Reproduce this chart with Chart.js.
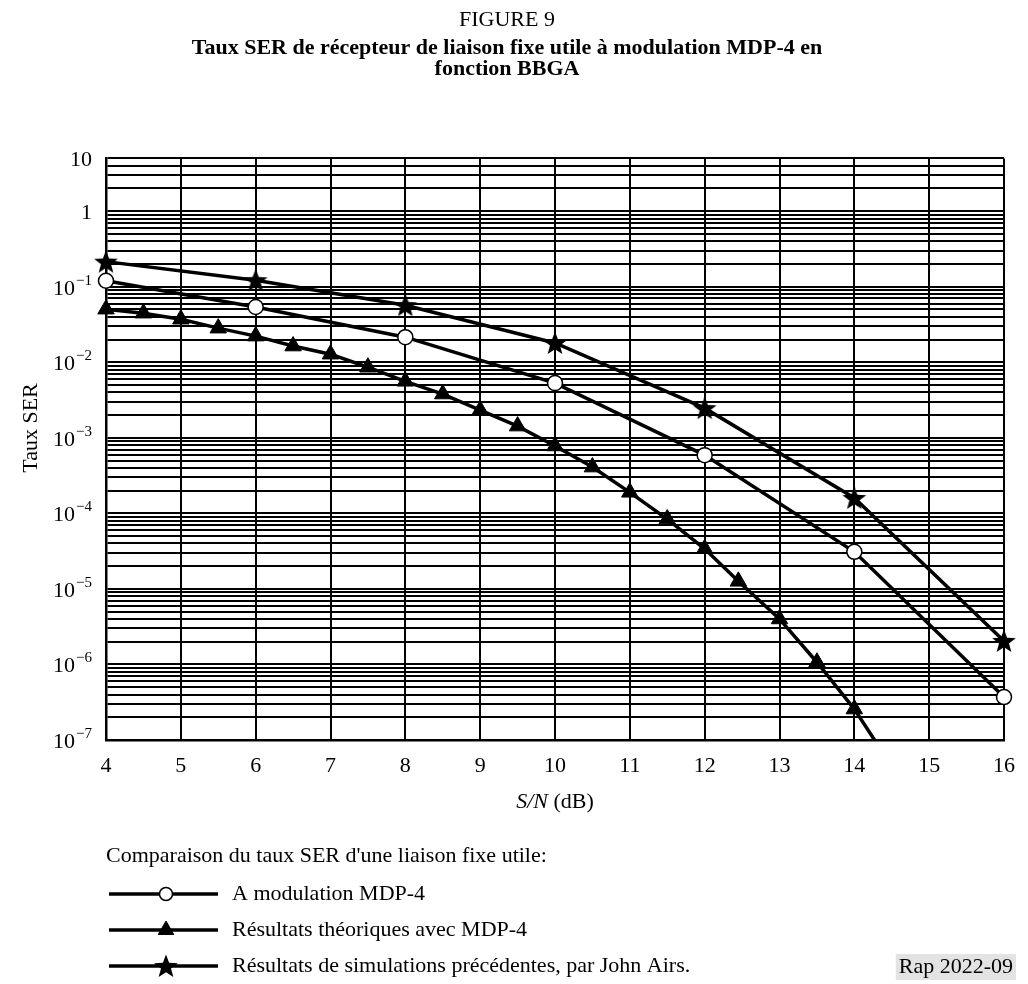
<!DOCTYPE html>
<html>
<head>
<meta charset="utf-8">
<script src="https://cdn.jsdelivr.net/npm/chart.js@4.4.0/dist/chart.umd.min.js"></script>
<style>
  body { margin: 0; background: #fff; }
  #wrap { width: 1028px; height: 984px; }
</style>
</head>
<body>
<div id="wrap"><canvas id="chart" width="1028" height="984"></canvas></div>
<script>
// values (S/N in dB, SER)
const snrCircle = [4, 6, 8, 10, 12, 14, 16];
const serCircle = [0.12, 0.054, 0.0215, 0.0053, 5.9e-4, 3.1e-5, 3.7e-7];

const snrTriangle = [4, 4.5, 5, 5.5, 6, 6.5, 7, 7.5, 8, 8.5, 9, 9.5, 10, 10.5, 11, 11.5, 12, 12.45, 13, 13.5, 14, 14.27];
const serTriangle = [0.0505, 0.0447, 0.0372, 0.0283, 0.0222, 0.0164, 0.0128, 0.0086, 0.0056, 0.0038, 0.00233, 0.00143,
                     7.8e-4, 4.1e-4, 1.9e-4, 8.4e-5, 3.4e-5, 1.26e-5, 4.0e-6, 1.07e-6, 2.57e-7, 1e-7];

const snrStar = [4, 6, 8, 10, 12, 14, 16];
const serStar = [0.215, 0.122, 0.057, 0.018, 0.00247, 1.6e-4, 2.05e-6];

const seriesLabels = [
    'A modulation MDP-4',
    'Résultats théoriques avec MDP-4',
    'Résultats de simulations précédentes, par John Airs.'
];

const xTicks = [4, 5, 6, 7, 8, 9, 10, 11, 12, 13, 14, 15, 16];
// the original figure stops the grid at the "5" line and labels that top edge "10"
const yTickValues = [1e-7, 1e-6, 1e-5, 1e-4, 1e-3, 1e-2, 1e-1, 1, 5];
const yTickBase = ['10', '10', '10', '10', '10', '10', '10', '1', '10'];
const yTickExp = ['−7', '−6', '−5', '−4', '−3', '−2', '−1', '', ''];

const FONT = "'Liberation Serif', 'Times New Roman', serif";
const FS = 22;

function toPoints(xs, ys) {
    return xs.map(function (x, i) { return { x: x, y: ys[i] }; });
}

// filled five-point star used as marker
function makeStar(size) {
    const c = document.createElement('canvas');
    c.width = size;
    c.height = size;
    const g = c.getContext('2d');
    const cx = size / 2, cy = size / 2 + 1, ro = size / 2 - 0.5, ri = ro * 0.42;
    g.beginPath();
    for (let i = 0; i < 10; i++) {
        const r = i % 2 === 0 ? ro : ri;
        const a = -Math.PI / 2 + i * Math.PI / 5;
        g.lineTo(cx + r * Math.cos(a), cy + r * Math.sin(a));
    }
    g.closePath();
    g.fillStyle = '#000';
    g.fill();
    return c;
}
const starImg = makeStar(26);

// tail point of the triangle curve sits on the bottom edge, no marker there
const triRadius = serTriangle.map(function (v, i) { return i === serTriangle.length - 1 ? 0 : 9.5; });

const extras = {
    id: 'extras',
    afterDraw: function (chart) {
        const ctx = chart.ctx;
        const area = chart.chartArea;
        const yScale = chart.scales.y;
        ctx.save();
        ctx.fillStyle = '#000';
        ctx.textBaseline = 'middle';

        // y tick labels with raised exponents
        const right = area.left - 14;
        yTickValues.forEach(function (v, i) {
            const y = yScale.getPixelForValue(v) + 2;
            ctx.font = '15px ' + FONT;
            const ew = yTickExp[i] ? ctx.measureText(yTickExp[i]).width + 1 : 0;
            ctx.textAlign = 'left';
            if (ew) ctx.fillText(yTickExp[i], right - ew + 1, y - 8);
            ctx.font = FS + 'px ' + FONT;
            ctx.textAlign = 'right';
            ctx.fillText(yTickBase[i], right - ew, y);
        });

        // y title
        ctx.font = FS + 'px ' + FONT;
        ctx.textAlign = 'center';
        ctx.save();
        ctx.translate(31, 428);
        ctx.rotate(-Math.PI / 2);
        ctx.fillText('Taux SER', 0, 0);
        ctx.restore();

        // x title: S/N italic, (dB) upright
        const cx = (area.left + area.right) / 2;
        ctx.textAlign = 'left';
        ctx.font = 'italic ' + FS + 'px ' + FONT;
        const p1 = 'S/N';
        const w1 = ctx.measureText(p1).width;
        ctx.font = FS + 'px ' + FONT;
        const p2 = ' (dB)';
        const w2 = ctx.measureText(p2).width;
        const sx = cx - (w1 + w2) / 2;
        ctx.font = 'italic ' + FS + 'px ' + FONT;
        ctx.fillText(p1, sx, 802);
        ctx.font = FS + 'px ' + FONT;
        ctx.fillText(p2, sx + w1, 802);

        // legend
        ctx.fillText("Comparaison du taux SER d'une liaison fixe utile:", 106, 856);
        const rows = [894, 930, 966];
        chart.data.datasets.forEach(function (ds, i) {
            const y = rows[i];
            ctx.beginPath();
            ctx.lineWidth = 3.5;
            ctx.strokeStyle = '#000';
            ctx.moveTo(109, y);
            ctx.lineTo(218, y);
            ctx.stroke();
            ctx.fillStyle = ds.pointBackgroundColor;
            ctx.strokeStyle = ds.pointBorderColor;
            ctx.lineWidth = ds.pointBorderWidth;
            Chart.helpers.drawPoint(ctx, {
                pointStyle: ds.pointStyle,
                radius: ds.legendRadius,
                rotation: 0,
                borderWidth: ds.pointBorderWidth
            }, 166, y);
            ctx.fillStyle = '#000';
            ctx.font = FS + 'px ' + FONT;
            ctx.fillText(ds.label, 232, y);
        });

        // figure reference tag
        ctx.font = FS + 'px ' + FONT;
        const tag = 'Rap 2022-09';
        const tw = ctx.measureText(tag).width;
        ctx.fillStyle = '#e3e3e3';
        ctx.fillRect(1014 - tw - 4, 954, tw + 6, 26);
        ctx.fillStyle = '#000';
        ctx.fillText(tag, 1014 - tw - 1, 967);
        ctx.restore();
    }
};

new Chart(document.getElementById('chart'), {
    type: 'line',
    data: {
        datasets: [{
            label: seriesLabels[0],
            data: toPoints(snrCircle, serCircle),
            borderColor: '#000',
            borderWidth: 3.5,
            pointStyle: 'circle',
            pointRadius: 7.5,
            legendRadius: 6.5,
            pointBackgroundColor: '#fff',
            pointBorderColor: '#000',
            pointBorderWidth: 1.5,
            order: 1
        }, {
            label: seriesLabels[1],
            data: toPoints(snrTriangle, serTriangle),
            borderColor: '#000',
            borderWidth: 3.5,
            pointStyle: 'triangle',
            pointRadius: triRadius,
            legendRadius: 9,
            pointBackgroundColor: '#000',
            pointBorderColor: '#000',
            pointBorderWidth: 1,
            order: 2
        }, {
            label: seriesLabels[2],
            data: toPoints(snrStar, serStar),
            borderColor: '#000',
            borderWidth: 3.5,
            pointStyle: starImg,
            pointRadius: 13,
            legendRadius: 13,
            pointBackgroundColor: '#000',
            pointBorderColor: '#000',
            pointBorderWidth: 0,
            order: 3
        }]
    },
    options: {
        responsive: false,
        animation: false,
        clip: false,
        layout: { padding: { left: 0, right: 14, top: 0, bottom: 202 } },
        elements: { line: { tension: 0 } },
        plugins: {
            legend: { display: false },
            tooltip: { enabled: false },
            title: {
                display: true,
                text: 'FIGURE 9',
                color: '#000',
                font: { family: FONT, size: FS, weight: 'normal', lineHeight: 1.2 },
                padding: { top: 7, bottom: 0 }
            },
            subtitle: {
                display: true,
                text: ['Taux SER de récepteur de liaison fixe utile à modulation MDP-4 en', 'fonction BBGA'],
                color: '#000',
                font: { family: FONT, size: FS, weight: 'bold', lineHeight: '21px' },
                padding: { top: 4, bottom: 79 }
            }
        },
        scales: {
            x: {
                type: 'linear',
                min: 4,
                max: 16,
                afterBuildTicks: function (scale) {
                    scale.ticks = xTicks.map(function (v) { return { value: v }; });
                },
                afterFit: function (scale) { scale.height = 42; },
                ticks: {
                    color: '#000',
                    font: { family: FONT, size: FS },
                    padding: 13,
                    maxRotation: 0,
                    autoSkip: false
                },
                grid: { color: '#000', lineWidth: 2, drawTicks: false },
                border: { color: '#000', width: 2.5 }
            },
            y: {
                type: 'logarithmic',
                min: yTickValues[0],
                max: yTickValues[yTickValues.length - 1],
                afterBuildTicks: function (scale) {
                    // grid lines at 1..9 of every decade up to the top edge
                    const t = [];
                    const top = scale.max;
                    for (let d = -7; d <= 0; d++) {
                        for (let k = 1; k <= 9; k++) {
                            const v = k * Math.pow(10, d);
                            if (v <= top * 1.0001) t.push({ value: v });
                        }
                    }
                    scale.ticks = t;
                },
                afterFit: function (scale) { scale.width = 106; },
                ticks: {
                    autoSkip: false,
                    // labels are drawn by the extras plugin so the exponents can be raised
                    callback: function () { return ''; }
                },
                grid: { color: '#000', lineWidth: 2, drawTicks: false },
                border: { color: '#000', width: 2.5 }
            }
        }
    },
    plugins: [extras]
});
</script>
</body>
</html>
